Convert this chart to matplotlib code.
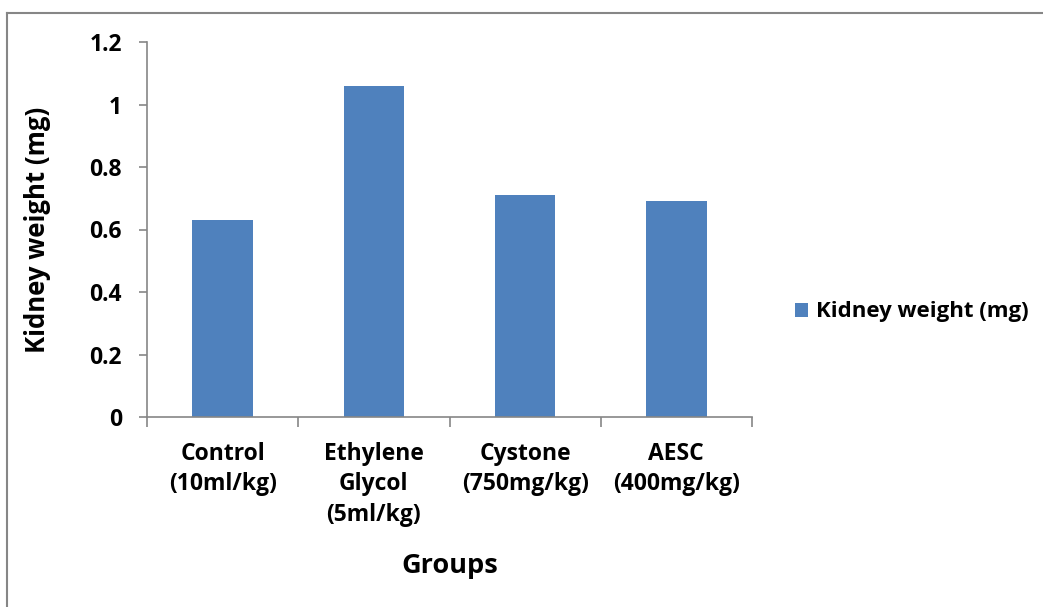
import matplotlib
matplotlib.use("Agg")
import matplotlib.pyplot as plt
from matplotlib.lines import Line2D
import numpy as np

# data
groups = ["Control\n(10ml/kg)", "Ethylene\nGlycol\n(5ml/kg)",
          "Cystone\n(750mg/kg)", "AESC\n(400mg/kg)"]
kidney_weight = [0.63, 1.06, 0.71, 0.69]
y_ticks = [0, 0.2, 0.4, 0.6, 0.8, 1, 1.2]
y_tick_labels = ["0", "0.2", "0.4", "0.6", "0.8", "1", "1.2"]
series_name = "Kidney weight (mg)"

plt.rcParams["font.family"] = ["Open Sans", "DejaVu Sans"]
plt.rcParams["font.weight"] = "bold"

W, H = 1043, 607
fig = plt.figure(figsize=(W / 100, H / 100), dpi=100)
ax = fig.add_axes([147 / W, 1 - 417 / H, (752 - 147) / W, (417 - 42) / H])

x = np.arange(len(groups))
bars = ax.bar(x, kidney_weight, width=0.4, color="#4F81BD", label=series_name)

ax.set_xlim(-0.5, len(groups) - 0.5)
ax.set_ylim(0, 1.2)
ax.set_yticks(y_ticks)
ax.set_yticklabels(y_tick_labels, fontsize=16.5, fontweight="bold")
ax.set_xticks(x)
ax.set_xticklabels(groups, fontsize=16.5, fontweight="bold", linespacing=1.35)
ax.set_xticks(np.arange(-0.5, len(groups)), minor=True)

spine_col = "#868686"
for s in ["top", "right"]:
    ax.spines[s].set_visible(False)
for s in ["left", "bottom"]:
    ax.spines[s].set_color(spine_col)
    ax.spines[s].set_linewidth(1.2)

ax.tick_params(axis="x", which="major", length=0, pad=18)
ax.tick_params(axis="x", which="minor", length=7, color=spine_col, width=1.2)
ax.tick_params(axis="y", length=6, color=spine_col, width=1.2, pad=12)

ax.set_xlabel("Groups", fontsize=19.5, fontweight="bold", labelpad=19)
ax.set_ylabel(series_name, fontsize=18.5, fontweight="bold", labelpad=28)

fig.legend(handles=[bars], labels=[series_name], loc="center left",
           bbox_to_anchor=(775 / W, 1 - 312 / H), frameon=False,
           prop={"size": 16, "weight": "bold"}, handlelength=0.6,
           handleheight=0.6, handletextpad=0.35)

# outer chart frame (only top and left visible in the crop)
fig.add_artist(Line2D([6.5 / W, 1], [1 - 12.5 / H, 1 - 12.5 / H],
                      transform=fig.transFigure, color=spine_col, lw=1.5))
fig.add_artist(Line2D([6.5 / W, 6.5 / W], [0, 1 - 12.5 / H],
                      transform=fig.transFigure, color=spine_col, lw=1.5))

fig.savefig("out.png", dpi=100)
